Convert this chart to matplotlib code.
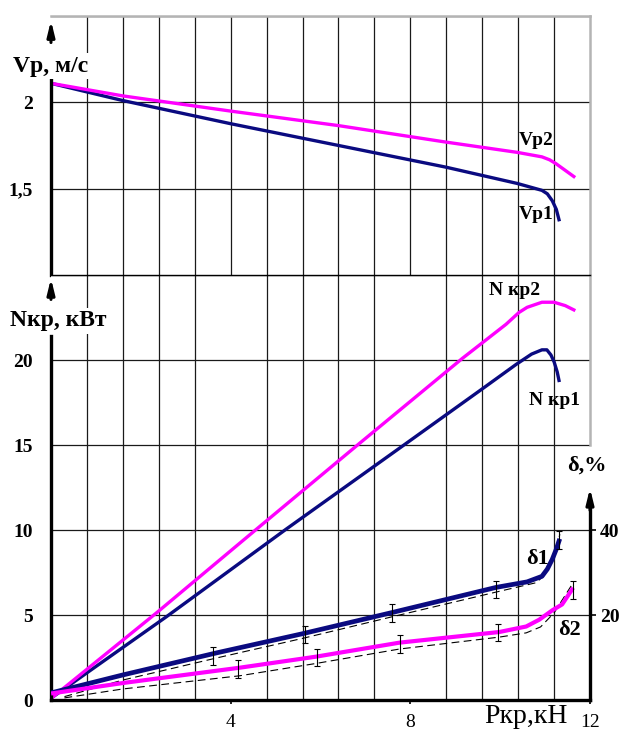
import numpy as np
import matplotlib
matplotlib.use('Agg')
import matplotlib.pyplot as plt

plt.rcParams['font.family'] = ['Liberation Serif', 'DejaVu Serif']

NAVY = '#0a0a80'
MAG = '#ff00ff'
GRAYF = '#b4b4b4'

# ── data (x = Pкр, кН) ──────────────────────────────────────────────
vp1_x = [0.0, 1.6, 4.0, 6.4, 8.78, 10.38, 10.93, 11.05, 11.16, 11.25, 11.31]
vp1_y = [2.11, 2.01, 1.876, 1.75, 1.625, 1.53, 1.49, 1.47, 1.43, 1.38, 1.32]
vp2_x = [0.0, 1.6, 4.0, 6.4, 8.78, 10.38, 10.93, 11.1, 11.24, 11.4, 11.64]
vp2_y = [2.11, 2.037, 1.949, 1.865, 1.77, 1.71, 1.684, 1.667, 1.645, 1.615, 1.57]

n1_x = [0.05, 2.57, 5.24, 7.91, 9.6, 10.36, 10.7, 10.93, 11.04, 11.13, 11.2, 11.27, 11.31]
n1_y = [0.2, 4.9, 10.06, 15.1, 18.3, 19.75, 20.35, 20.6, 20.6, 20.3, 19.9, 19.3, 18.8]
n2_x = [0.05, 2.36, 4.58, 6.87, 9.16, 10.13, 10.42, 10.6, 10.93, 11.2, 11.45, 11.64]
n2_y = [0.2, 5.15, 10.06, 15.1, 20.1, 22.1, 22.8, 23.1, 23.4, 23.4, 23.2, 22.95]

d1_x = [0.05, 1.6, 3.69, 5.6, 7.6, 9.91, 10.6, 10.93, 11.05, 11.16, 11.25, 11.31]
d1_y = [1.8, 5.9, 11.1, 15.6, 20.6, 26.5, 27.8, 29.1, 30.8, 33.1, 35.5, 37.4]
d2_x = [0.05, 1.6, 4.2, 5.9, 7.76, 9.98, 10.58, 10.87, 11.16, 11.38, 11.6]
d2_y = [1.6, 4.0, 7.6, 10.2, 13.5, 16.0, 17.3, 18.9, 21.1, 22.5, 26.0]

d1c_x = [0.3, 1.6, 3.69, 5.6, 7.6, 9.91, 10.8, 11.0, 11.2, 11.33]
d1c_y = [0.8, 4.7, 9.9, 14.5, 19.6, 25.4, 27.6, 29.5, 34.0, 39.0]
d2c_x = [0.3, 1.6, 4.2, 5.9, 7.76, 9.98, 10.58, 10.9, 11.2, 11.62]
d2c_y = [0.5, 2.6, 5.7, 8.6, 12.0, 14.8, 15.8, 17.2, 20.5, 27.5]

e1_x = [3.6, 5.65, 7.6, 9.91, 11.3]
e1_y = [10.4, 15.4, 20.4, 26.0, 37.6]
e2_x = [4.16, 5.93, 7.78, 9.96, 11.62]
e2_y = [7.3, 10.0, 13.1, 15.9, 25.8]
err = 2.1

fig = plt.figure(figsize=(6.24, 7.35), dpi=100)
ax_t = fig.add_axes([0.0817, 0.6259, 0.8638, 0.3524])
ax_b = fig.add_axes([0.0817, 0.0476, 0.8638, 0.5782])

grid_x = np.arange(0.8, 11.3, 0.8)
for ax in (ax_t, ax_b):
    ax.set_xlim(0, 12)
    ax.set_xticks(grid_x, minor=True)
    ax.grid(which='minor', axis='x', color='#1a1a1a', lw=0.9)
    ax.grid(which='major', axis='y', color='#1a1a1a', lw=0.9)
    ax.set_axisbelow(True)
    ax.tick_params(which='minor', length=0)
    for s in ax.spines.values():
        s.set_visible(False)

lbl_box = dict(facecolor='white', edgecolor='none', pad=1.5)

# ── top panel: Vp ──
ax_t.set_ylim(1.0, 2.5)
ax_t.set_yticks([1.5, 2.0, 2.5])
ax_t.set_yticklabels(['1,5', '2', ''], fontsize=14, fontweight='bold')
ax_t.set_xticks([])
ax_t.tick_params(axis='y', length=0, pad=13)
ax_t.spines['top'].set_visible(True)
ax_t.spines['top'].set_color(GRAYF)
ax_t.spines['top'].set_linewidth(1.8)
ax_t.spines['right'].set_visible(True)
ax_t.spines['right'].set_color(GRAYF)
ax_t.spines['right'].set_linewidth(1.8)
ax_t.spines['left'].set_visible(True)
ax_t.spines['left'].set_linewidth(2.4)
ax_t.spines['left'].set_bounds(1.0, 2.135)

ax_t.plot(vp1_x, vp1_y, color=NAVY, lw=2.4)
ax_t.plot(vp2_x, vp2_y, color=MAG, lw=2.4)
ax_t.text(10.42, 1.78, 'Vp2', fontsize=14, fontweight='bold', va='center')
ax_t.text(10.42, 1.35, 'Vp1', fontsize=14, fontweight='bold', va='center')
ax_t.annotate('', xy=(0, 2.49), xytext=(0, 2.33), annotation_clip=False,
              arrowprops=dict(arrowstyle='-|>,head_length=0.9,head_width=0.22',
                              color='black', lw=2.2))
ax_t.text(-0.84, 2.21, 'Vp, м/с', fontsize=17, fontweight='bold',
          va='center', ha='left', clip_on=False, bbox=lbl_box, zorder=5)

# ── bottom panel: Nкр ──
ax_b.set_ylim(0, 25)
ax_b.set_yticks([0, 5, 10, 15, 20, 25])
ax_b.set_yticklabels(['0', '5', '10', '15', '20', ''], fontsize=14, fontweight='bold')
ax_b.tick_params(axis='y', length=0, pad=13)
ax_b.set_xticks([4, 8, 12])
ax_b.set_xticklabels(['4', '8', '12'], fontsize=14)
ax_b.tick_params(axis='x', which='major', direction='out', length=3, width=1.2, pad=7)
ax_b.spines['bottom'].set_visible(True)
ax_b.spines['bottom'].set_linewidth(2.4)
ax_b.spines['top'].set_visible(True)
ax_b.spines['top'].set_linewidth(1.0)
ax_b.spines['left'].set_visible(True)
ax_b.spines['left'].set_linewidth(2.4)
ax_b.spines['left'].set_bounds(0, 21.4)
ax_b.plot([12, 12], [15, 25], color=GRAYF, lw=1.8, clip_on=False)

ax_b.plot(n1_x, n1_y, color=NAVY, lw=2.4)
ax_b.plot(n2_x, n2_y, color=MAG, lw=2.4)
ax_b.text(9.76, 24.1, 'N кр2', fontsize=14, fontweight='bold', va='center')
ax_b.text(10.64, 17.6, 'N кр1', fontsize=14, fontweight='bold', va='center')
ax_b.annotate('', xy=(0, 24.97), xytext=(0, 23.4), annotation_clip=False,
              arrowprops=dict(arrowstyle='-|>,head_length=0.9,head_width=0.22',
                              color='black', lw=2.2))
ax_b.text(-0.91, 22.3, 'Nкр, кВт', fontsize=17, fontweight='bold',
          va='center', ha='left', clip_on=False, bbox=lbl_box, zorder=5)
ax_b.text(9.64, -1.36, 'Ркр,кН', fontsize=20, va='baseline', ha='left',
          clip_on=False)

# ── δ axis (right) ──
ax_d = ax_b.twinx()
ax_d.set_ylim(0, 100)
for s in ax_d.spines.values():
    s.set_visible(False)
ax_d.spines['right'].set_visible(True)
ax_d.spines['right'].set_linewidth(2.4)
ax_d.spines['right'].set_bounds(0, 46)
ax_d.set_yticks([20, 40])
ax_d.set_yticklabels(['20', '40'], fontsize=14, fontweight='bold')
ax_d.tick_params(axis='y', direction='out', length=4, width=1.2, pad=3)
ax_d.annotate('', xy=(12, 50.5), xytext=(12, 44), annotation_clip=False,
              arrowprops=dict(arrowstyle='-|>,head_length=0.9,head_width=0.22',
                              color='black', lw=2.2))
ax_d.text(11.93, 55.1, 'δ,%', fontsize=16, fontweight='bold',
          va='center', ha='center', clip_on=False)

ax_d.plot(d1c_x, d1c_y, color='black', lw=0.8, ls=(0, (7, 4)))
ax_d.plot(d2c_x, d2c_y, color='black', lw=0.8, ls=(0, (7, 4)))
ax_d.plot(d1_x, d1_y, color=NAVY, lw=3.4)
ax_d.plot(d2_x, d2_y, color=MAG, lw=3.0)
ax_d.errorbar(e1_x, e1_y, yerr=err, fmt='none', ecolor='black',
              elinewidth=0.8, capsize=2.5, capthick=0.8)
ax_d.errorbar(e2_x, e2_y, yerr=err, fmt='none', ecolor='black',
              elinewidth=0.8, capsize=2.5, capthick=0.8)
ax_d.text(10.58, 33.2, 'δ1', fontsize=16, fontweight='bold', va='center')
ax_d.text(11.29, 16.4, 'δ2', fontsize=16, fontweight='bold', va='center')

fig.savefig('out.png', dpi=100)
